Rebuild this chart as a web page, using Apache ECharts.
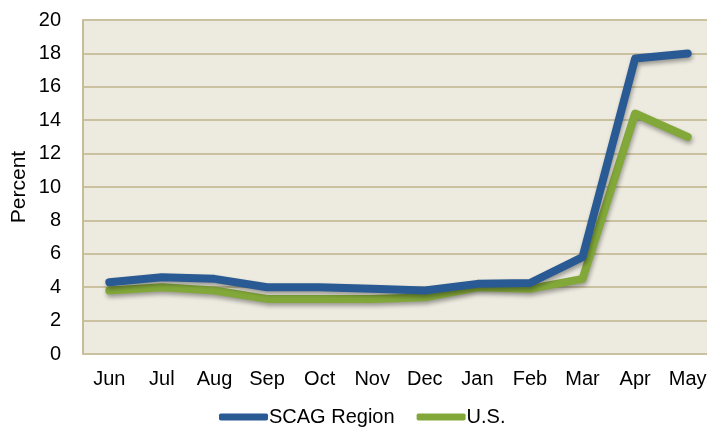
<!DOCTYPE html>
<html>
<head>
<meta charset="utf-8">
<script src="https://cdn.jsdelivr.net/npm/echarts@6/dist/echarts.min.js"></script>
<style>
  html, body { margin: 0; padding: 0; background: #fff; }
  #chart { width: 707px; height: 434px; }
</style>
</head>
<body>
<div id="chart"></div>
<script>
const months = ['Jun', 'Jul', 'Aug', 'Sep', 'Oct', 'Nov', 'Dec', 'Jan', 'Feb', 'Mar', 'Apr', 'May'];
const scagRegion = [4.3, 4.6, 4.5, 4.0, 4.0, 3.9, 3.8, 4.2, 4.25, 5.8, 17.7, 18.0];
const us = [3.8, 4.0, 3.8, 3.3, 3.3, 3.3, 3.4, 4.0, 3.9, 4.5, 14.4, 13.0];
const yTicks = [0, 20, 2];

const chart = echarts.init(document.getElementById('chart'));

const shadow = {
  shadowColor: 'rgba(0,0,0,0.35)',
  shadowBlur: 4,
  shadowOffsetX: 1,
  shadowOffsetY: 3
};

chart.setOption({
  animation: false,
  textStyle: { fontFamily: 'Liberation Sans, Arial, sans-serif' },
  grid: {
    left: 83,
    top: 20,
    width: 631,
    height: 334,
    outerBoundsMode: 'none',
    containLabel: false,
    backgroundColor: '#EDEBE0',
    show: true,
    borderWidth: 0
  },
  legend: {
    bottom: 2,
    left: 214,
    itemWidth: 49,
    itemHeight: 7,
    itemGap: 22,
    icon: 'roundRect',
    textStyle: { fontSize: 20, color: '#000', padding: [0, 0, 0, -4] },
    data: ['SCAG Region', 'U.S.']
  },
  xAxis: {
    type: 'category',
    data: months,
    boundaryGap: true,
    axisLine: { show: false },
    axisTick: { show: false },
    axisLabel: { fontSize: 20, color: '#000', margin: 15 }
  },
  yAxis: {
    type: 'value',
    min: yTicks[0],
    max: yTicks[1],
    interval: yTicks[2],
    name: 'Percent',
    nameLocation: 'middle',
    nameGap: 53,
    nameMoveOverlap: false,
    nameTextStyle: { fontSize: 21, color: '#000' },
    axisLine: { show: true, lineStyle: { color: '#C6BD98', width: 2 } },
    axisTick: { show: false },
    axisLabel: { fontSize: 20, color: '#000', margin: 22 },
    splitLine: { lineStyle: { color: '#C9C1A0', width: 2 } }
  },
  series: [
    {
      name: 'SCAG Region',
      type: 'line',
      data: scagRegion,
      symbol: 'none',
      z: 3,
      itemStyle: { color: '#2A5A93' },
      lineStyle: Object.assign({ color: '#2A5A93', width: 8, cap: 'round', join: 'round' }, shadow)
    },
    {
      name: 'U.S.',
      type: 'line',
      data: us,
      symbol: 'none',
      z: 2,
      itemStyle: { color: '#83A83A' },
      lineStyle: Object.assign({ color: '#83A83A', width: 8, cap: 'round', join: 'round' }, shadow)
    }
  ]
});
</script>
</body>
</html>
